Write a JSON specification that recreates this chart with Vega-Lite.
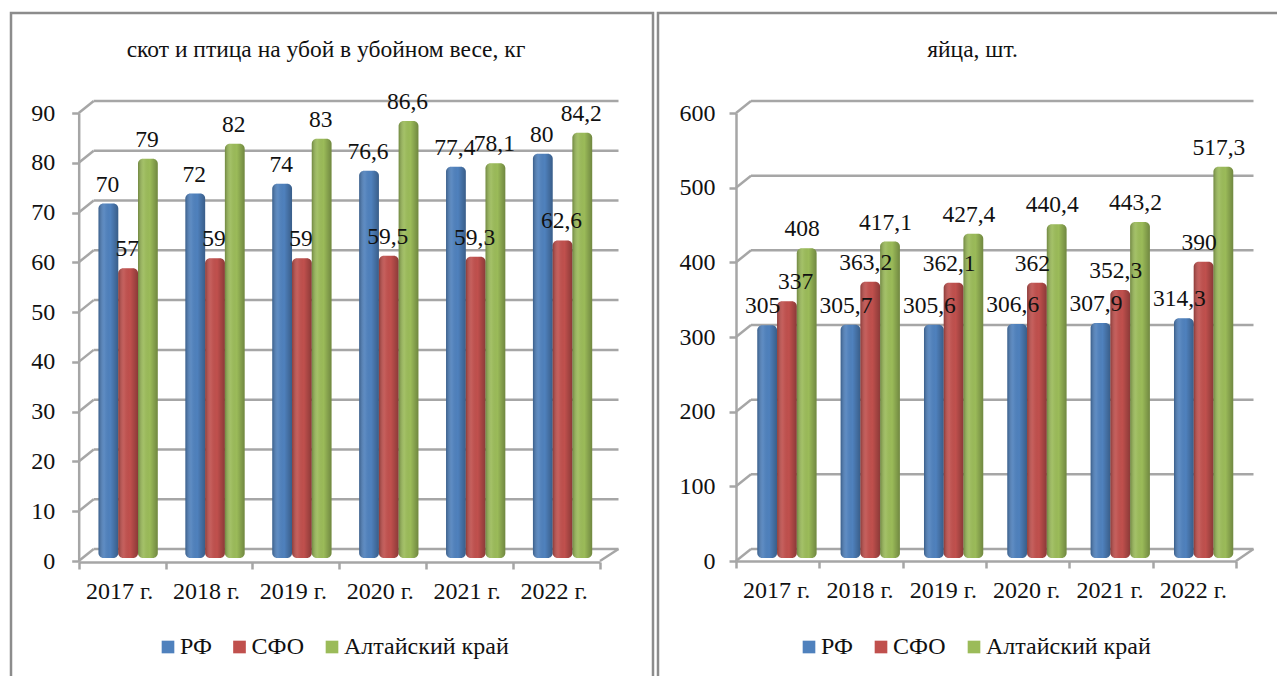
{
"$schema":"https://vega.github.io/schema/vega-lite/v6.json",
"padding":{"left":9,"top":11,"right":0,"bottom":0},
"autosize":{"type":"pad"},
"background":"white",
"spacing":1,
"config":{"view":{"stroke":"#8c8c8c","strokeWidth":2.5},"font":"Liberation Serif","title":{"font":"Liberation Serif","fontWeight":"normal","color":"#111"},"axis":{"labelFont":"Liberation Serif","labelFontSize":24,"labelColor":"#111","domainColor":"#a6a6a6","domainWidth":2.5,"tickColor":"#a6a6a6","tickWidth":2.5,"tickSize":7,"grid":false,"title":null},"legend":{"labelFont":"Liberation Serif","labelFontSize":24,"labelColor":"#111","labelLimit":400}},
"datasets":{
"meat":[
{"year":"2017 г.","series":"РФ","value":70,"label":"70"},{"year":"2017 г.","series":"СФО","value":57,"label":"57"},{"year":"2017 г.","series":"Алтайский край","value":79,"label":"79"},
{"year":"2018 г.","series":"РФ","value":72,"label":"72"},{"year":"2018 г.","series":"СФО","value":59,"label":"59"},{"year":"2018 г.","series":"Алтайский край","value":82,"label":"82"},
{"year":"2019 г.","series":"РФ","value":74,"label":"74"},{"year":"2019 г.","series":"СФО","value":59,"label":"59"},{"year":"2019 г.","series":"Алтайский край","value":83,"label":"83"},
{"year":"2020 г.","series":"РФ","value":76.6,"label":"76,6"},{"year":"2020 г.","series":"СФО","value":59.5,"label":"59,5"},{"year":"2020 г.","series":"Алтайский край","value":86.6,"label":"86,6"},
{"year":"2021 г.","series":"РФ","value":77.4,"label":"77,4"},{"year":"2021 г.","series":"СФО","value":59.3,"label":"59,3"},{"year":"2021 г.","series":"Алтайский край","value":78.1,"label":"78,1"},
{"year":"2022 г.","series":"РФ","value":80,"label":"80"},{"year":"2022 г.","series":"СФО","value":62.6,"label":"62,6"},{"year":"2022 г.","series":"Алтайский край","value":84.2,"label":"84,2"}],
"eggs":[
{"year":"2017 г.","series":"РФ","value":305,"label":"305"},{"year":"2017 г.","series":"СФО","value":337,"label":"337"},{"year":"2017 г.","series":"Алтайский край","value":408,"label":"408"},
{"year":"2018 г.","series":"РФ","value":305.7,"label":"305,7"},{"year":"2018 г.","series":"СФО","value":363.2,"label":"363,2"},{"year":"2018 г.","series":"Алтайский край","value":417.1,"label":"417,1"},
{"year":"2019 г.","series":"РФ","value":305.6,"label":"305,6"},{"year":"2019 г.","series":"СФО","value":362.1,"label":"362,1"},{"year":"2019 г.","series":"Алтайский край","value":427.4,"label":"427,4"},
{"year":"2020 г.","series":"РФ","value":306.6,"label":"306,6"},{"year":"2020 г.","series":"СФО","value":362,"label":"362"},{"year":"2020 г.","series":"Алтайский край","value":440.4,"label":"440,4"},
{"year":"2021 г.","series":"РФ","value":307.9,"label":"307,9"},{"year":"2021 г.","series":"СФО","value":352.3,"label":"352,3"},{"year":"2021 г.","series":"Алтайский край","value":443.2,"label":"443,2"},
{"year":"2022 г.","series":"РФ","value":314.3,"label":"314,3"},{"year":"2022 г.","series":"СФО","value":390,"label":"390"},{"year":"2022 г.","series":"Алтайский край","value":517.3,"label":"517,3"}],
"ticksMeat":[{"v":0},{"v":10},{"v":20},{"v":30},{"v":40},{"v":50},{"v":60},{"v":70},{"v":80},{"v":90}],
"ticksEggs":[{"v":0},{"v":100},{"v":200},{"v":300},{"v":400},{"v":500},{"v":600}]
},
"resolve":{"scale":{"color":"independent"},"legend":{"color":"independent"}},
"hconcat":[
{"width":642,"height":670,
"title":{"text":"скот и птица на убой в убойном весе, кг","fontSize":23.5,"anchor":"middle","offset":-48,"dx":-6},
"resolve":{"scale":{"x":"independent"}},
"layer":[
{"data":{"name":"ticksMeat"},"mark":{"type":"rule","color":"#a6a6a6","strokeWidth":2.5,"xOffset":15,"x2Offset":18.5,"yOffset":-12},
"encoding":{"x":{"datum":0,"type":"quantitative","axis":null,"scale":{"domain":[0,6],"range":[67.7,589]}},"x2":{"datum":6},"y":{"field":"v","type":"quantitative","scale":{"domain":[0,90],"range":[548,100]},"axis":{"values":[0,10,20,30,40,50,60,70,80,90],"offset":-67.7,"labelPadding":17}}}},
{"data":{"name":"ticksMeat"},"mark":{"type":"rule","color":"#a6a6a6","strokeWidth":2.5,"x2Offset":15,"y2Offset":-12},
"encoding":{"x":{"datum":0,"type":"quantitative","axis":null,"scale":{"domain":[0,6],"range":[67.7,589]}},"x2":{"datum":0},"y":{"field":"v","type":"quantitative"},"y2":{"field":"v"}}},
{"data":{"values":[{"v":0}]},"mark":{"type":"rule","color":"#a6a6a6","strokeWidth":2.5,"x2Offset":18.5,"y2Offset":-12},
"encoding":{"x":{"datum":6,"type":"quantitative","axis":null,"scale":{"domain":[0,6],"range":[67.7,589]}},"x2":{"datum":6},"y":{"field":"v","type":"quantitative"},"y2":{"field":"v"}}},
{"data":{"name":"meat"},"mark":{"type":"bar","yOffset":-9,"y2Offset":-3,"cornerRadius":5},
"encoding":{"x":{"field":"year","type":"nominal","sort":null,"axis":null,"scale":{"range":[73.7,595],"paddingInner":0,"paddingOuter":0}},
"xOffset":{"field":"series","type":"nominal","sort":null,"scale":{"domain":["РФ","СФО","Алтайский край"],"paddingOuter":0.7,"paddingInner":0}},
"y":{"field":"value","type":"quantitative"},"y2":{"datum":0},
"color":{"field":"series","type":"nominal","sort":null,"scale":{"domain":["РФ","СФО","Алтайский край"],"range":["#4f81bd","#c0504d","#9bbb59"]},"legend":{"orient":"none","legendX":145,"legendY":622,"direction":"horizontal","title":null,"symbolType":"square","symbolSize":160,"columns":3,"columnPadding":15.5,"labelOffset":0,"symbolOpacity":1}}}},
{"data":{"name":"meat"},"mark":{"type":"bar","yOffset":-9,"y2Offset":-3,"cornerRadius":5,"color":{"gradient":"linear","x1":0,"y1":0,"x2":1,"y2":0,"stops":[{"offset":0,"color":"rgba(0,0,0,0.28)"},{"offset":0.3,"color":"rgba(255,255,255,0.08)"},{"offset":0.6,"color":"rgba(0,0,0,0)"},{"offset":1,"color":"rgba(0,0,0,0.28)"}]}},
"encoding":{"x":{"field":"year","type":"nominal","sort":null,"scale":{"range":[73.7,595],"paddingInner":0,"paddingOuter":0},"axis":null},
"xOffset":{"field":"series","type":"nominal","sort":null,"scale":{"domain":["РФ","СФО","Алтайский край"],"paddingOuter":0.7,"paddingInner":0}},
"y":{"field":"value","type":"quantitative"},"y2":{"datum":0}}},
{"data":{"name":"meat"},"mark":{"type":"text","fontSize":23.5,"font":"Liberation Serif","color":"#111","dx":5,"dy":-28,"baseline":"middle"},
"encoding":{"x":{"field":"year","type":"nominal","sort":null,"scale":{"range":[67.7,589],"paddingInner":0,"paddingOuter":0},"axis":{"labelAngle":0,"offset":-121,"tickBand":"extent","labelPadding":10,"labelOffset":-3}},
"xOffset":{"field":"series","type":"nominal","sort":null,"scale":{"domain":["РФ","СФО","Алтайский край"],"paddingOuter":0.7,"paddingInner":0}},
"y":{"field":"value","type":"quantitative"},"text":{"field":"label"}}}
]},
{"width":625,"height":670,
"title":{"text":"яйца, шт.","fontSize":23.5,"anchor":"middle","offset":-48,"dx":2},
"resolve":{"scale":{"x":"independent"}},
"layer":[
{"data":{"name":"ticksEggs"},"mark":{"type":"rule","color":"#a6a6a6","strokeWidth":2.5,"xOffset":15,"x2Offset":17.5,"yOffset":-12},
"encoding":{"x":{"datum":0,"type":"quantitative","axis":null,"scale":{"domain":[0,6],"range":[78,578]}},"x2":{"datum":6},"y":{"field":"v","type":"quantitative","scale":{"domain":[0,600],"range":[548,100]},"axis":{"values":[0,100,200,300,400,500,600],"offset":-78,"labelPadding":14}}}},
{"data":{"name":"ticksEggs"},"mark":{"type":"rule","color":"#a6a6a6","strokeWidth":2.5,"x2Offset":15,"y2Offset":-12},
"encoding":{"x":{"datum":0,"type":"quantitative","axis":null,"scale":{"domain":[0,6],"range":[78,578]}},"x2":{"datum":0},"y":{"field":"v","type":"quantitative"},"y2":{"field":"v"}}},
{"data":{"values":[{"v":0}]},"mark":{"type":"rule","color":"#a6a6a6","strokeWidth":2.5,"x2Offset":17.5,"y2Offset":-12},
"encoding":{"x":{"datum":6,"type":"quantitative","axis":null,"scale":{"domain":[0,6],"range":[78,578]}},"x2":{"datum":6},"y":{"field":"v","type":"quantitative"},"y2":{"field":"v"}}},
{"data":{"name":"eggs"},"mark":{"type":"bar","yOffset":-8,"y2Offset":-3,"cornerRadius":5},
"encoding":{"x":{"field":"year","type":"nominal","sort":null,"axis":null,"scale":{"range":[85.5,585.5],"paddingInner":0,"paddingOuter":0}},
"xOffset":{"field":"series","type":"nominal","sort":null,"scale":{"domain":["РФ","СФО","Алтайский край"],"paddingOuter":0.715,"paddingInner":0}},
"y":{"field":"value","type":"quantitative"},"y2":{"datum":0},
"color":{"field":"series","type":"nominal","sort":null,"scale":{"domain":["РФ","СФО","Алтайский край"],"range":["#4f81bd","#c0504d","#9bbb59"]},"legend":{"orient":"none","legendX":139,"legendY":622,"direction":"horizontal","title":null,"symbolType":"square","symbolSize":160,"columns":3,"columnPadding":16,"labelOffset":0,"symbolOpacity":1}}}},
{"data":{"name":"eggs"},"mark":{"type":"bar","yOffset":-8,"y2Offset":-3,"cornerRadius":5,"color":{"gradient":"linear","x1":0,"y1":0,"x2":1,"y2":0,"stops":[{"offset":0,"color":"rgba(0,0,0,0.28)"},{"offset":0.3,"color":"rgba(255,255,255,0.08)"},{"offset":0.6,"color":"rgba(0,0,0,0)"},{"offset":1,"color":"rgba(0,0,0,0.28)"}]}},
"encoding":{"x":{"field":"year","type":"nominal","sort":null,"scale":{"range":[85.5,585.5],"paddingInner":0,"paddingOuter":0},"axis":null},
"xOffset":{"field":"series","type":"nominal","sort":null,"scale":{"domain":["РФ","СФО","Алтайский край"],"paddingOuter":0.715,"paddingInner":0}},
"y":{"field":"value","type":"quantitative"},"y2":{"datum":0}}},
{"data":{"name":"eggs"},"transform":[{"filter":"datum.label !== '337'"}],"mark":{"type":"text","fontSize":23.5,"font":"Liberation Serif","color":"#111","dx":3,"dy":-27,"baseline":"middle"},
"encoding":{"x":{"field":"year","type":"nominal","sort":null,"scale":{"range":[78,578],"paddingInner":0,"paddingOuter":0},"axis":{"labelAngle":0,"offset":-122,"tickBand":"extent","labelPadding":10,"labelOffset":-1.5}},
"xOffset":{"field":"series","type":"nominal","sort":null,"scale":{"domain":["РФ","СФО","Алтайский край"],"paddingOuter":0.715,"paddingInner":0}},
"y":{"field":"value","type":"quantitative"},"text":{"field":"label"}}},
{"data":{"name":"eggs"},"transform":[{"filter":"datum.label === '337'"}],"mark":{"type":"text","fontSize":23.5,"font":"Liberation Serif","color":"#111","dx":-1,"dy":-27,"baseline":"middle"},
"encoding":{"x":{"field":"year","type":"nominal","sort":null,"axis":null,"scale":{"domain":["2017 г.","2018 г.","2019 г.","2020 г.","2021 г.","2022 г."],"range":[97,597],"paddingInner":0,"paddingOuter":0}},
"y":{"field":"value","type":"quantitative"},"text":{"field":"label"}}}
]}
]
}
